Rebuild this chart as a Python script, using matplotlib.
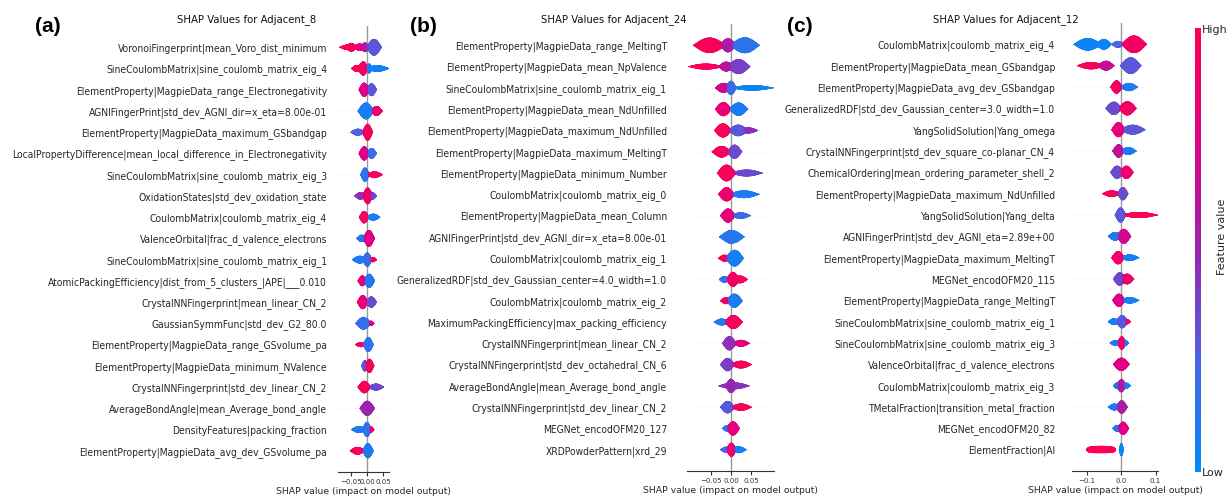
import numpy as np
import matplotlib
matplotlib.use("Agg")
import matplotlib.pyplot as plt
from matplotlib.colors import LinearSegmentedColormap
from matplotlib.collections import PolyCollection
from matplotlib.font_manager import FontProperties, fontManager
import matplotlib.colorbar as mcolorbar

# ---------------------------------------------------------------------------
# Feature names (top to bottom) and violin lobes per feature.
# Each lobe: (shap_low, shap_high, half_thickness_in_rows, feature_value[0..1][, edge_power])
# ---------------------------------------------------------------------------
a_title = "SHAP Values for Adjacent_8"
a_features = [
    "VoronoiFingerprint|mean_Voro_dist_minimum",
    "SineCoulombMatrix|sine_coulomb_matrix_eig_4",
    "ElementProperty|MagpieData_range_Electronegativity",
    "AGNIFingerPrint|std_dev_AGNI_dir=x_eta=8.00e-01",
    "ElementProperty|MagpieData_maximum_GSbandgap",
    "LocalPropertyDifference|mean_local_difference_in_Electronegativity",
    "SineCoulombMatrix|sine_coulomb_matrix_eig_3",
    "OxidationStates|std_dev_oxidation_state",
    "CoulombMatrix|coulomb_matrix_eig_4",
    "ValenceOrbital|frac_d_valence_electrons",
    "SineCoulombMatrix|sine_coulomb_matrix_eig_1",
    "AtomicPackingEfficiency|dist_from_5_clusters_|APE|___0.010",
    "CrystalNNFingerprint|mean_linear_CN_2",
    "GaussianSymmFunc|std_dev_G2_80.0",
    "ElementProperty|MagpieData_range_GSvolume_pa",
    "ElementProperty|MagpieData_minimum_NValence",
    "CrystalNNFingerprint|std_dev_linear_CN_2",
    "AverageBondAngle|mean_Average_bond_angle",
    "DensityFeatures|packing_fraction",
    "ElementProperty|MagpieData_avg_dev_GSvolume_pa",
]
a_lobes = [
    [(-0.084, -0.030, 0.12, 0.95), (-0.064, -0.030, 0.19, 0.95), (-0.042, -0.002, 0.16, 0.80),
     (-0.018, 0.006, 0.22, 0.55), (-0.002, 0.045, 0.38, 0.30)],
    [(-0.048, -0.012, 0.15, 0.95), (-0.028, 0.005, 0.32, 0.92), (-0.005, 0.068, 0.14, 0.05),
     (-0.002, 0.016, 0.22, 0.10)],
    [(-0.025, 0.008, 0.32, 0.75), (-0.002, 0.030, 0.29, 0.30)],
    [(-0.028, 0.022, 0.38, 0.08), (0.010, 0.048, 0.22, 0.85)],
    [(-0.050, -0.005, 0.15, 0.25), (-0.014, 0.018, 0.38, 0.93)],
    [(-0.025, 0.008, 0.32, 0.75), (-0.002, 0.030, 0.24, 0.20)],
    [(-0.020, 0.008, 0.32, 0.15), (-0.002, 0.048, 0.14, 0.95)],
    [(-0.038, -0.002, 0.16, 0.45), (-0.014, 0.018, 0.38, 0.90), (0.003, 0.030, 0.16, 0.35)],
    [(-0.024, 0.007, 0.28, 0.93), (-0.002, 0.040, 0.15, 0.10)],
    [(-0.032, 0.000, 0.16, 0.10), (-0.012, 0.024, 0.38, 0.75)],
    [(-0.045, 0.002, 0.17, 0.10), (-0.014, 0.016, 0.32, 0.20), (0.006, 0.030, 0.11, 0.90)],
    [(-0.028, 0.000, 0.24, 0.80), (-0.010, 0.024, 0.32, 0.12)],
    [(-0.030, 0.004, 0.32, 0.82), (-0.004, 0.030, 0.25, 0.35)],
    [(-0.035, 0.014, 0.28, 0.18), (0.003, 0.022, 0.11, 0.85)],
    [(-0.035, -0.003, 0.11, 0.95), (-0.012, 0.020, 0.34, 0.15)],
    [(-0.017, 0.004, 0.25, 0.30), (-0.007, 0.022, 0.32, 0.95)],
    [(-0.028, 0.012, 0.28, 0.95), (0.003, 0.052, 0.15, 0.35)],
    [(-0.022, 0.024, 0.34, 0.50)],
    [(-0.048, 0.000, 0.15, 0.10), (-0.014, 0.014, 0.34, 0.15), (0.003, 0.022, 0.13, 0.90)],
    [(-0.052, -0.005, 0.17, 0.95), (-0.014, 0.020, 0.34, 0.12)],
]
a_xlim = (-0.088, 0.067)
a_ticks = [-0.05, 0.0, 0.05]

b_title = "SHAP Values for Adjacent_24"
b_features = [
    "ElementProperty|MagpieData_range_MeltingT",
    "ElementProperty|MagpieData_mean_NpValence",
    "SineCoulombMatrix|sine_coulomb_matrix_eig_1",
    "ElementProperty|MagpieData_mean_NdUnfilled",
    "ElementProperty|MagpieData_maximum_NdUnfilled",
    "ElementProperty|MagpieData_maximum_MeltingT",
    "ElementProperty|MagpieData_minimum_Number",
    "CoulombMatrix|coulomb_matrix_eig_0",
    "ElementProperty|MagpieData_mean_Column",
    "AGNIFingerPrint|std_dev_AGNI_dir=x_eta=8.00e-01",
    "CoulombMatrix|coulomb_matrix_eig_1",
    "GeneralizedRDF|std_dev_Gaussian_center=4.0_width=1.0",
    "CoulombMatrix|coulomb_matrix_eig_2",
    "MaximumPackingEfficiency|max_packing_efficiency",
    "CrystalNNFingerprint|mean_linear_CN_2",
    "CrystalNNFingerprint|std_dev_octahedral_CN_6",
    "AverageBondAngle|mean_Average_bond_angle",
    "CrystalNNFingerprint|std_dev_linear_CN_2",
    "MEGNet_encodOFM20_127",
    "XRDPowderPattern|xrd_29",
]
b_lobes = [
    [(-0.095, -0.012, 0.35, 0.95), (-0.028, 0.013, 0.32, 0.55), (-0.003, 0.072, 0.36, 0.15)],
    [(-0.108, -0.018, 0.13, 0.95), (-0.032, 0.008, 0.22, 0.60), (-0.010, 0.048, 0.34, 0.40)],
    [(-0.040, 0.002, 0.22, 0.70), (-0.014, 0.014, 0.32, 0.20), (-0.002, 0.108, 0.12, 0.05)],
    [(-0.040, 0.002, 0.32, 0.85), (-0.005, 0.043, 0.30, 0.10)],
    [(-0.042, 0.002, 0.32, 0.95), (-0.007, 0.043, 0.26, 0.30), (0.018, 0.068, 0.13, 0.45)],
    [(-0.048, 0.001, 0.26, 0.95), (-0.010, 0.028, 0.32, 0.35)],
    [(-0.035, 0.013, 0.38, 0.95), (-0.002, 0.080, 0.15, 0.35)],
    [(-0.032, 0.010, 0.32, 0.85), (-0.007, 0.072, 0.17, 0.10)],
    [(-0.027, 0.012, 0.32, 0.80), (-0.002, 0.050, 0.14, 0.20)],
    [(-0.030, 0.034, 0.30, 0.10), (-0.012, 0.007, 0.22, 0.60)],
    [(-0.032, 0.000, 0.15, 0.95), (-0.014, 0.032, 0.38, 0.08)],
    [(-0.030, -0.003, 0.15, 0.15), (-0.012, 0.022, 0.34, 0.90), (0.003, 0.042, 0.17, 0.95)],
    [(-0.027, 0.002, 0.15, 0.90), (-0.012, 0.029, 0.32, 0.10)],
    [(-0.043, -0.003, 0.15, 0.10), (-0.017, 0.029, 0.32, 0.95)],
    [(-0.022, 0.014, 0.32, 0.45), (0.003, 0.047, 0.15, 0.80)],
    [(-0.027, 0.010, 0.30, 0.40), (-0.002, 0.052, 0.17, 0.95)],
    [(-0.032, 0.047, 0.15, 0.45), (-0.014, 0.014, 0.32, 0.50)],
    [(-0.027, 0.010, 0.28, 0.30), (-0.002, 0.052, 0.16, 0.95)],
    [(-0.022, 0.000, 0.13, 0.10), (-0.012, 0.022, 0.32, 0.80)],
    [(-0.027, 0.002, 0.13, 0.25), (-0.012, 0.014, 0.32, 0.90), (-0.002, 0.039, 0.15, 0.08)],
]
b_xlim = (-0.110, 0.1075)
b_ticks = [-0.05, 0.0, 0.05]

c_title = "SHAP Values for Adjacent_12"
c_features = [
    "CoulombMatrix|coulomb_matrix_eig_4",
    "ElementProperty|MagpieData_mean_GSbandgap",
    "ElementProperty|MagpieData_avg_dev_GSbandgap",
    "GeneralizedRDF|std_dev_Gaussian_center=3.0_width=1.0",
    "YangSolidSolution|Yang_omega",
    "CrystalNNFingerprint|std_dev_square_co-planar_CN_4",
    "ChemicalOrdering|mean_ordering_parameter_shell_2",
    "ElementProperty|MagpieData_maximum_NdUnfilled",
    "YangSolidSolution|Yang_delta",
    "AGNIFingerPrint|std_dev_AGNI_eta=2.89e+00",
    "ElementProperty|MagpieData_maximum_MeltingT",
    "MEGNet_encodOFM20_115",
    "ElementProperty|MagpieData_range_MeltingT",
    "SineCoulombMatrix|sine_coulomb_matrix_eig_1",
    "SineCoulombMatrix|sine_coulomb_matrix_eig_3",
    "ValenceOrbital|frac_d_valence_electrons",
    "CoulombMatrix|coulomb_matrix_eig_3",
    "TMetalFraction|transition_metal_fraction",
    "MEGNet_encodOFM20_82",
    "ElementFraction|Al",
]
c_lobes = [
    [(-0.138, -0.055, 0.28, 0.05), (-0.073, -0.027, 0.24, 0.05), (-0.028, 0.010, 0.15, 0.25),
     (0.000, 0.075, 0.40, 0.92)],
    [(-0.128, -0.046, 0.16, 0.95), (-0.068, -0.019, 0.22, 0.65), (-0.003, 0.059, 0.38, 0.30)],
    [(-0.031, 0.005, 0.30, 0.90), (-0.003, 0.049, 0.18, 0.10)],
    [(-0.045, 0.003, 0.30, 0.35), (-0.008, 0.045, 0.32, 0.90)],
    [(-0.028, 0.013, 0.34, 0.78), (-0.003, 0.071, 0.22, 0.30)],
    [(-0.025, 0.011, 0.30, 0.65), (-0.003, 0.045, 0.17, 0.10)],
    [(-0.031, 0.008, 0.30, 0.35), (-0.005, 0.036, 0.30, 0.90)],
    [(-0.055, 0.001, 0.14, 0.95), (-0.011, 0.021, 0.30, 0.35)],
    [(-0.018, 0.015, 0.34, 0.30), (-0.003, 0.108, 0.13, 0.95)],
    [(-0.038, 0.003, 0.19, 0.10), (-0.013, 0.029, 0.34, 0.70)],
    [(-0.028, 0.011, 0.30, 0.90), (-0.003, 0.053, 0.14, 0.08)],
    [(-0.023, 0.015, 0.30, 0.35), (-0.003, 0.038, 0.24, 0.90)],
    [(-0.025, 0.013, 0.30, 0.75), (-0.003, 0.053, 0.14, 0.08)],
    [(-0.038, -0.002, 0.15, 0.10), (-0.015, 0.021, 0.30, 0.30), (0.007, 0.028, 0.11, 0.90)],
    [(-0.033, 0.003, 0.13, 0.08), (-0.011, 0.015, 0.30, 0.92), (0.002, 0.023, 0.13, 0.10)],
    [(-0.023, 0.025, 0.30, 0.75)],
    [(-0.023, 0.003, 0.15, 0.10), (-0.013, 0.015, 0.30, 0.60), (0.002, 0.028, 0.13, 0.10)],
    [(-0.038, 0.000, 0.15, 0.10), (-0.015, 0.019, 0.30, 0.55)],
    [(-0.025, 0.003, 0.15, 0.15), (-0.011, 0.023, 0.30, 0.75)],
    [(-0.100, -0.015, 0.15, 0.97, 6), (-0.006, 0.008, 0.30, 0.05)],
]
c_xlim = (-0.142, 0.107)
c_ticks = [-0.1, 0.0, 0.1]

# ---------------------------------------------------------------------------
# Blue -> purple -> red feature-value colormap
# ---------------------------------------------------------------------------
cmap = LinearSegmentedColormap.from_list(
    "red_blue",
    [(0.00, (0.000, 0.543, 0.983)),
     (0.25, (0.295, 0.389, 0.891)),
     (0.50, (0.608, 0.140, 0.680)),
     (0.75, (0.878, 0.000, 0.525)),
     (1.00, (1.000, 0.000, 0.318))],
)

W, H = 1226, 497
fig = plt.figure(figsize=(W / 100, H / 100), dpi=100)

condensed = any(f.name == "DejaVu Sans" and f.stretch == "condensed" for f in fontManager.ttflist)
if condensed:
    label_fp = FontProperties(family="DejaVu Sans", stretch="condensed", size=7.4)
    title_fp = FontProperties(family="DejaVu Sans", stretch="condensed", size=8.1)
else:
    label_fp = FontProperties(family="DejaVu Sans", size=6.7)
    title_fp = FontProperties(family="DejaVu Sans", size=7.3)

TEXT = "#262626"


def px_axes(left, right, top, bottom):
    return fig.add_axes([left / W, (H - bottom) / H, (right - left) / W, (bottom - top) / H])


def draw_violins(ax, lobes_list, xlim):
    n = len(lobes_list)
    xs = np.linspace(xlim[0], xlim[1], 700)
    polys, cols = [], []
    for i, lobes in enumerate(lobes_list):
        y0 = n - 1 - i
        widths, vals = [], []
        for lb in lobes:
            lo, hi, h, c = lb[:4]
            p = lb[4] if len(lb) > 4 else 2
            t = (xs - 0.5 * (lo + hi)) / (0.5 * (hi - lo))
            expo = 0.6 if p > 2 else 1.3
            widths.append(np.clip(1 - np.abs(t) ** p, 0, None) ** expo * h)
            vals.append(c)
        wt = np.array(widths) ** 4
        tot = wt.sum(axis=0)
        hgt = tot ** 0.25
        cval = (wt * np.array(vals)[:, None]).sum(axis=0) / np.where(tot > 0, tot, 1)
        for k in range(len(xs) - 1):
            if hgt[k] < 4e-3 and hgt[k + 1] < 4e-3:
                continue
            polys.append([(xs[k], y0 - hgt[k]), (xs[k + 1], y0 - hgt[k + 1]),
                          (xs[k + 1], y0 + hgt[k + 1]), (xs[k], y0 + hgt[k])])
            cols.append(cmap(0.5 * (cval[k] + cval[k + 1])))
    ax.add_collection(PolyCollection(polys, facecolors=cols, edgecolors=cols,
                                     linewidths=0.35, zorder=2))


def shap_panel(box, features, lobes, xlim, ticks, label_pad):
    ax = px_axes(*box)
    n = len(features)
    ax.set_xlim(*xlim)
    ax.set_ylim(-1, n)
    ax.axvline(0, color="#999999", lw=1.0, zorder=1)
    for y in range(n):
        ax.axhline(y, color="#cccccc", lw=0.5, dashes=(1, 5), zorder=0)
    draw_violins(ax, lobes, xlim)
    for s in ("top", "right", "left"):
        ax.spines[s].set_visible(False)
    ax.spines["bottom"].set_color("#333333")
    ax.spines["bottom"].set_linewidth(0.8)
    ax.set_yticks(range(n))
    ax.set_yticklabels(features[::-1], fontproperties=label_fp, color=TEXT)
    ax.tick_params(axis="y", length=0, pad=label_pad)
    ax.set_xticks(ticks)
    ax.tick_params(axis="x", labelsize=5.0, length=3, width=0.8, pad=2,
                   colors="#333333", labelcolor="#333333")
    ax.set_xlabel("SHAP value (impact on model output)", fontsize=6.7,
                  color=TEXT, labelpad=1.5)
    return ax


shap_panel((338, 389, 26, 472), a_features, a_lobes, a_xlim, a_ticks, 7.9)
shap_panel((687, 774, 24, 471), b_features, b_lobes, b_xlim, b_ticks, 14.4)
shap_panel((1072, 1158, 23, 471), c_features, c_lobes, c_xlim, c_ticks, 12.2)

# panel titles and letters
for cx, title in ((247, a_title), (614, b_title), (1006, c_title)):
    fig.text(cx / W, 1 - 20 / H, title, ha="center", va="center",
             fontproperties=title_fp, color="#111111")
for cx, letter in ((48, "(a)"), (423, "(b)"), (800, "(c)")):
    fig.text(cx / W, 1 - 27 / H, letter, ha="center", va="center",
             family="Liberation Sans", fontsize=15, fontweight="bold", color="black")

# feature-value colour bar
cax = px_axes(1195, 1201, 28, 472)
cb = mcolorbar.ColorbarBase(cax, cmap=cmap, orientation="vertical")
cb.outline.set_visible(False)
cax.set_yticks([])
cax.set_xticks([])
fig.text(1202 / W, 1 - 30 / H, "High", ha="left", va="center", fontsize=8, color=TEXT)
fig.text(1202 / W, 1 - 473 / H, "Low", ha="left", va="center", fontsize=8, color=TEXT)
fig.text(1222 / W, 1 - 237 / H, "Feature value", ha="center", va="center",
         rotation=90, fontsize=8, color=TEXT)

fig.savefig("out.png", dpi=100, facecolor="white")
